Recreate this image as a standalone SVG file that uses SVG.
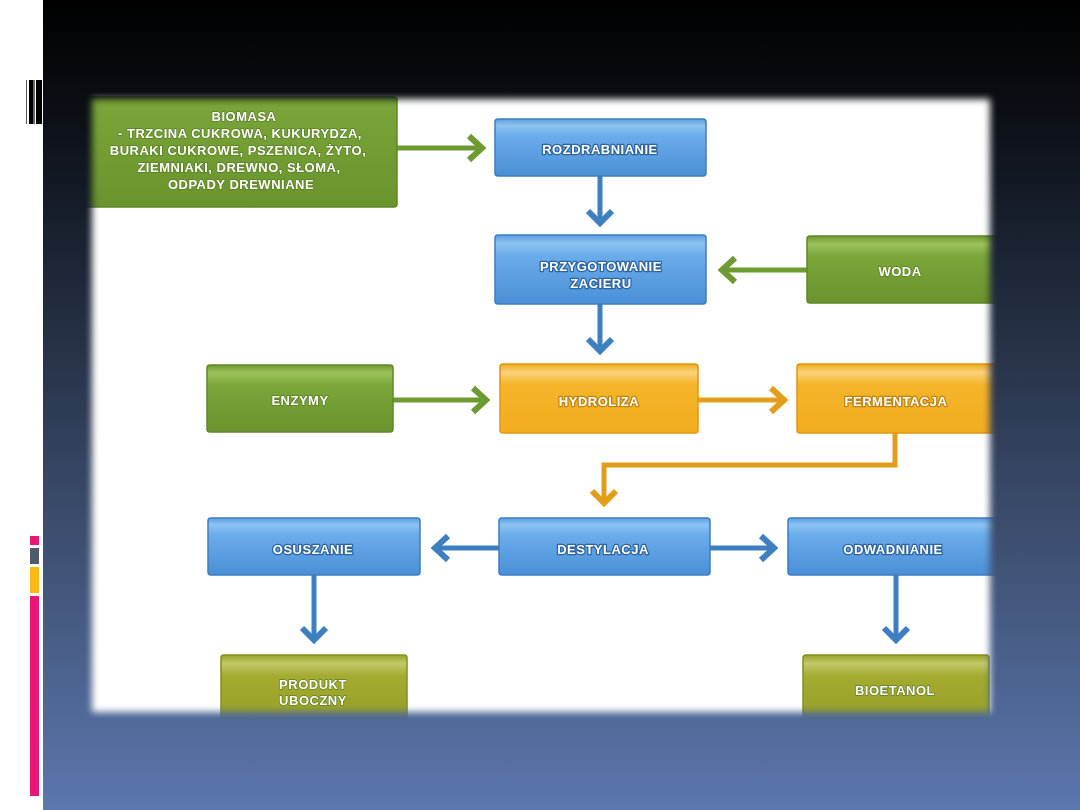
<svg xmlns="http://www.w3.org/2000/svg" width="1080" height="810" viewBox="0 0 1080 810">
<defs>
<linearGradient id="bg" x1="0" y1="0" x2="0" y2="1">
<stop offset="0" stop-color="#000000"/>
<stop offset="0.15" stop-color="#0c1017"/>
<stop offset="0.65" stop-color="#3c4d6e"/>
<stop offset="1" stop-color="#5b77ad"/>
</linearGradient>
<linearGradient id="gBlue" x1="0" y1="0" x2="0" y2="1">
<stop offset="0" stop-color="#5d9fe0"/>
<stop offset="0.12" stop-color="#8cc3f2"/>
<stop offset="0.3" stop-color="#6aaceb"/>
<stop offset="1" stop-color="#4a8fd6"/>
</linearGradient>
<linearGradient id="gGreen" x1="0" y1="0" x2="0" y2="1">
<stop offset="0" stop-color="#6f9a30"/>
<stop offset="0.12" stop-color="#9cc35a"/>
<stop offset="0.3" stop-color="#7aa63a"/>
<stop offset="1" stop-color="#6a932c"/>
</linearGradient>
<linearGradient id="gBio" x1="0" y1="0" x2="0" y2="1">
<stop offset="0" stop-color="#7aa63a"/>
<stop offset="1" stop-color="#6a942c"/>
</linearGradient>
<linearGradient id="gOrange" x1="0" y1="0" x2="0" y2="1">
<stop offset="0" stop-color="#eeaa1c"/>
<stop offset="0.12" stop-color="#fbd27a"/>
<stop offset="0.3" stop-color="#f5b429"/>
<stop offset="1" stop-color="#f2ad1f"/>
</linearGradient>
<linearGradient id="gOlive" x1="0" y1="0" x2="0" y2="1">
<stop offset="0" stop-color="#98a226"/>
<stop offset="0.12" stop-color="#c2c96a"/>
<stop offset="0.3" stop-color="#a3ab30"/>
<stop offset="1" stop-color="#959f24"/>
</linearGradient>
<filter id="soft" x="-10%" y="-10%" width="120%" height="120%">
<feGaussianBlur stdDeviation="3.5"/>
</filter>
<mask id="panelMask" maskUnits="userSpaceOnUse" x="0" y="0" width="1080" height="810">
<rect x="92" y="99" width="898" height="613" fill="#fff" filter="url(#soft)"/>
</mask>
<style>
.txt{font-family:"Liberation Sans",Arial,sans-serif;font-weight:bold;font-size:13px;fill:#fff;text-anchor:middle;letter-spacing:0.5px;paint-order:stroke;stroke-linejoin:round}
.tb{stroke:#2c64a0;stroke-width:2.6}
.to{stroke:#c08410;stroke-width:2.6}
.tg{stroke:#587c22;stroke-width:1.4}
.blue{fill:url(#gBlue);stroke:#3b7dc2;stroke-width:1.5}
.green{fill:url(#gGreen);stroke:#5f8728;stroke-width:1.5}
.orange{fill:url(#gOrange);stroke:#e0960c;stroke-width:1.5}
.olive{fill:url(#gOlive);stroke:#858f1c;stroke-width:1.5}
.c{fill:none;stroke-width:5;stroke-linejoin:miter}
.h{fill:none;stroke-width:6;stroke-linejoin:miter}
.cb{stroke:#3d7fc1}
.cg{stroke:#6e9a32}
.co{stroke:#e49d1a}
</style>
</defs>
<rect x="0" y="0" width="1080" height="810" fill="url(#bg)"/>
<rect x="0" y="0" width="43" height="810" fill="#ffffff"/>
<g id="deco">
<rect x="26" y="80" width="1" height="44" fill="#555"/>
<rect x="29" y="80" width="4" height="44" fill="#000"/>
<rect x="33" y="80" width="2" height="44" fill="#666"/>
<rect x="36" y="80" width="6" height="44" fill="#000"/>
<rect x="30" y="536" width="9" height="9" fill="#ea1677"/>
<rect x="30" y="548" width="9" height="16" fill="#505a6b"/>
<rect x="30" y="567" width="9" height="26" fill="#fdb813"/>
<rect x="30" y="596" width="9" height="200" fill="#ea1677"/>
</g>
<g mask="url(#panelMask)">
<rect x="85" y="92" width="912" height="626" fill="#ffffff"/>
<g id="connectors">
<path class="c cg" d="M397 148H480"/><path class="h cg" d="M469 136L482 148L469 160"/>
<path class="c cb" d="M600 176V222"/><path class="h cb" d="M588 211L600 223L612 211"/>
<path class="c cg" d="M807 270H724"/><path class="h cg" d="M735 258L722 270L735 282"/>
<path class="c cb" d="M600 304V350"/><path class="h cb" d="M588 339L600 351L612 339"/>
<path class="c cg" d="M393 400H484"/><path class="h cg" d="M473 388L486 400L473 412"/>
<path class="c co" d="M698 400H782"/><path class="h co" d="M771 388L784 400L771 412"/>
<path class="c co" d="M895 433V465H604V502"/><path class="h co" d="M592 491L604 503L616 491"/>
<path class="c cb" d="M499 548H437"/><path class="h cb" d="M448 536L435 548L448 560"/>
<path class="c cb" d="M710 548H772"/><path class="h cb" d="M761 536L774 548L761 560"/>
<path class="c cb" d="M314 575V639"/><path class="h cb" d="M302 628L314 640L326 628"/>
<path class="c cb" d="M896 575V639"/><path class="h cb" d="M884 628L896 640L908 628"/>
</g>
<g id="n-biomasa">
<rect x="78" y="97" width="319" height="110" rx="3" fill="url(#gBio)" stroke="#5f8728" stroke-width="1.5"/>
<text class="txt tg" x="244" y="121" font-size="12.5">BIOMASA</text>
<text class="txt tg" x="240" y="138" font-size="12.5">- TRZCINA CUKROWA,  KUKURYDZA,</text>
<text class="txt tg" x="238" y="155" font-size="12.5">BURAKI CUKROWE, PSZENICA,  ŻYTO,</text>
<text class="txt tg" x="239" y="172" font-size="12.5">ZIEMNIAKI,  DREWNO,  SŁOMA,</text>
<text class="txt tg" x="241" y="189" font-size="12.5">ODPADY DREWNIANE</text>
</g>
<g id="n-rozdrabnianie">
<rect class="blue" x="495" y="119" width="211" height="57" rx="3"/>
<text class="txt tb" x="600" y="154">ROZDRABNIANIE</text>
</g>
<g id="n-przygotowanie">
<rect class="blue" x="495" y="235" width="211" height="69" rx="3"/>
<text class="txt tb" x="601" y="271">PRZYGOTOWANIE</text>
<text class="txt tb" x="601" y="288">ZACIERU</text>
</g>
<g id="n-woda">
<rect class="green" x="807" y="236" width="200" height="67" rx="3"/>
<text class="txt tg" x="900" y="276">WODA</text>
</g>
<g id="n-enzymy">
<rect class="green" x="207" y="365" width="186" height="67" rx="3"/>
<text class="txt tg" x="300" y="405">ENZYMY</text>
</g>
<g id="n-hydroliza">
<rect class="orange" x="500" y="364" width="198" height="69" rx="3"/>
<text class="txt to" x="599" y="406">HYDROLIZA</text>
</g>
<g id="n-fermentacja">
<rect class="orange" x="797" y="364" width="210" height="69" rx="3"/>
<text class="txt to" x="896" y="406">FERMENTACJA</text>
</g>
<g id="n-destylacja">
<rect class="blue" x="499" y="518" width="211" height="57" rx="3"/>
<text class="txt tb" x="603" y="554">DESTYLACJA</text>
</g>
<g id="n-osuszanie">
<rect class="blue" x="208" y="518" width="212" height="57" rx="3"/>
<text class="txt tb" x="313" y="554">OSUSZANIE</text>
</g>
<g id="n-odwadnianie">
<rect class="blue" x="788" y="518" width="219" height="57" rx="3"/>
<text class="txt tb" x="893" y="554">ODWADNIANIE</text>
</g>
<g id="n-produkt">
<rect class="olive" x="221" y="655" width="186" height="70" rx="3"/>
<text class="txt tg" x="313" y="689">PRODUKT</text>
<text class="txt tg" x="313" y="705">UBOCZNY</text>
</g>
<g id="n-bioetanol">
<rect class="olive" x="803" y="655" width="186" height="70" rx="3"/>
<text class="txt tg" x="895" y="695">BIOETANOL</text>
</g>
</g>
</svg>
